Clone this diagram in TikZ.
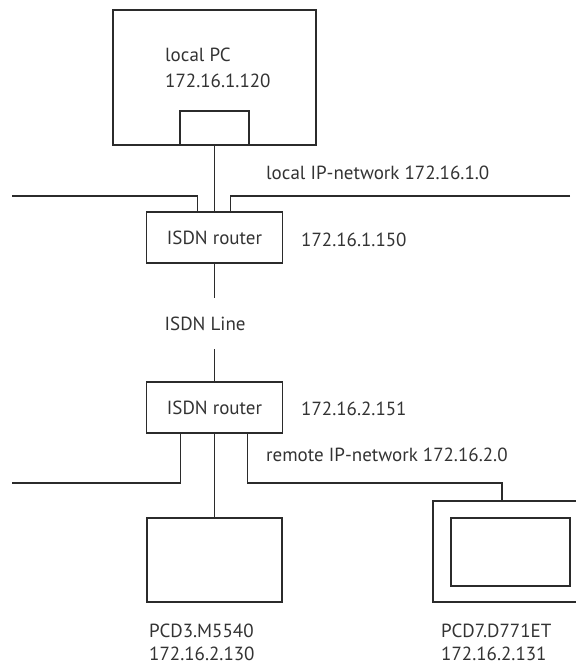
\documentclass[tikz,border=0pt]{standalone}
\usepackage{fontspec}
\setmainfont{PT Sans}
\usetikzlibrary{positioning}
\definecolor{wire}{HTML}{2B2B2B}
\definecolor{ink}{HTML}{333333}

\begin{document}
\begin{tikzpicture}[x=1pt, y=-1pt,
  every node/.style={font=\fontsize{19}{23}\selectfont, text=ink},
  box/.style={rectangle, draw=wire, line width=1.3pt, outer sep=0pt, inner sep=0pt},
  router/.style={box, minimum width=136pt, minimum height=51pt},
  lbl/.style={anchor=west, align=left, inner sep=0pt},
  link/.style={draw=wire, line width=1.3pt},
]
\clip (0,0) rectangle (576,665);

%% Local side
\node[box, minimum width=203pt, minimum height=135pt] (PC) at (214.5,77.5) {};
\node[box, minimum width=69pt, minimum height=34pt, anchor=south] (port) at (PC.south) {};
\node[lbl] (pclbl) at (165,68) {local PC\\[3pt]172.16.1.120};

\node[router, below=67pt of port] (R1) {ISDN router};
\node[lbl] (r1ip) at (301,240) {172.16.1.150};

\coordinate (lanL) at (12,196);
\coordinate (lanR) at (570,196);
\node[lbl] (lan) at (266,173) {local IP-network 172.16.1.0};

%% ISDN line
\node[lbl, minimum height=51pt, below=35pt of R1.south west, xshift=18pt, anchor=north west] (isdn) {ISDN Line};

\node[router, below=119pt of R1] (R2) {ISDN router};
\node[lbl] (r2ip) at (301,409) {172.16.2.151};

%% Remote side
\coordinate (wanL) at (12,483);
\coordinate (wanR) at (502,483);
\node[lbl] (wan) at (266,455) {remote IP-network 172.16.2.0};

\node[box, minimum width=135pt, minimum height=84pt, below=85pt of R2] (pcd3) {};
\node[lbl] (pcd3lbl) at (149,642.5) {PCD3.M5540\\172.16.2.130};

\node[box, minimum width=162pt, minimum height=101pt] (pcd7) at (514,551.5) {};
\node[box, minimum width=119pt, minimum height=68pt] (pcd7in) at (510.5,552) {};
\node[lbl] (pcd7lbl) at (441,642.5) {PCD7.D771ET\\172.16.2.131};

%% Wires
\draw[link] (port) -- (R1);
\draw[link] (lanL) -| ([xshift=-17pt]R1.north);
\draw[link] (lanR) -| ([xshift=16pt]R1.north);
\draw[link] (R1.south) -- (R1.south |- isdn.north);
\draw[link] (R2.north |- isdn.south) -- (R2.north);
\draw[link] ([xshift=-34pt]R2.south) |- (wanL);
\draw[link] (R2) -- (pcd3);
\draw[link] ([xshift=33pt]R2.south) |- (wanR) -- (wanR |- pcd7.north);

\end{tikzpicture}
\end{document}
